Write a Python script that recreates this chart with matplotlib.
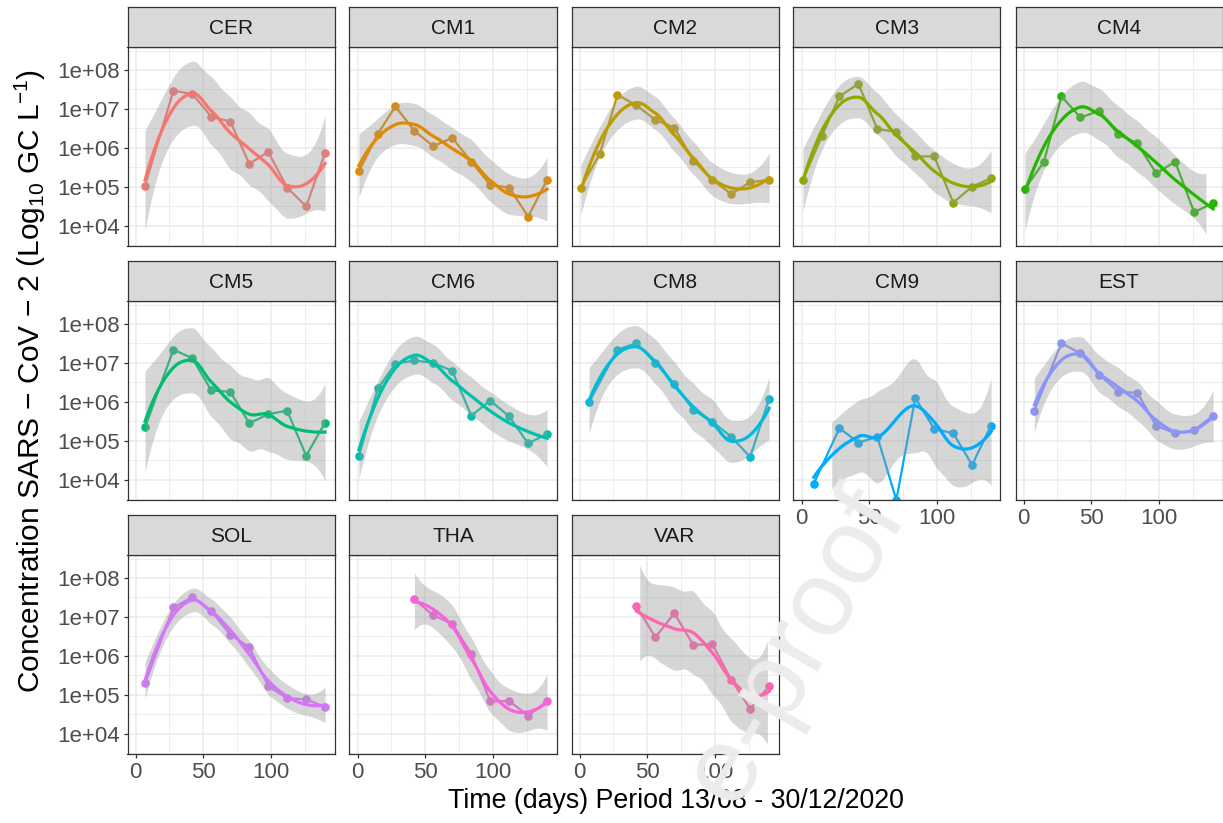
import math
import numpy as np
import matplotlib
matplotlib.use("Agg")
import matplotlib.pyplot as plt
from matplotlib.ticker import FixedLocator, NullFormatter

plt.rcParams['font.family'] = ['Liberation Sans', 'DejaVu Sans']
plt.rcParams['mathtext.fontset'] = 'custom'
plt.rcParams['mathtext.rm'] = 'Liberation Sans'
plt.rcParams['mathtext.it'] = 'Liberation Sans:italic'

# ---------------- data ----------------
sites = ["CER", "CM1", "CM2", "CM3", "CM4", "CM5", "CM6", "CM8", "CM9", "EST",
         "SOL", "THA", "VAR"]
colors = ["#F8766D", "#E18A00", "#BE9C00", "#8CAB00", "#24B700", "#00BE70",
          "#00C1AB", "#00BBDA", "#00ACFC", "#8B93FF", "#D575FE", "#F962DD", "#FF65AC"]

days_11 = [1, 15, 28, 42, 56, 70, 84, 98, 112, 126, 140]
days_d7 = [7, 28, 42, 56, 70, 84, 98, 112, 126, 140]
days_est = [8, 28, 42, 56, 70, 84, 98, 112, 126, 140]
days_cm9 = [9, 28, 42, 56, 70, 84, 98, 112, 126, 140]
days_d42 = [42, 56, 70, 84, 98, 112, 126, 140]

cer = [1.07e5, 2.95e7, 2.4e7, 6.3e6, 4.7e6, 3.9e5, 7.8e5, 9.5e4, 3.1e4, 7.4e5]
cm1 = [2.5e5, 2.3e6, 1.15e7, 2.7e6, 1.1e6, 1.8e6, 4.4e5, 1.1e5, 9.5e4, 1.7e4, 1.5e5]
cm2 = [9.5e4, 7.1e5, 2.3e7, 1.23e7, 5.2e6, 3.3e6, 4.7e5, 1.5e5, 6.5e4, 1.3e5, 1.5e5]
cm3 = [1.5e5, 2.0e6, 2.1e7, 4.4e7, 3.0e6, 2.6e6, 6.0e5, 6.0e5, 3.9e4, 1.0e5, 1.65e5]
cm4 = [8.9e4, 4.3e5, 2.1e7, 6.0e6, 8.9e6, 2.2e6, 1.3e6, 2.2e5, 4.4e5, 2.2e4, 3.8e4]
cm5 = [2.2e5, 2.2e7, 1.3e7, 1.95e6, 1.8e6, 2.8e5, 4.8e5, 5.9e5, 4.1e4, 2.9e5]
cm6 = [4.1e4, 2.2e6, 9.5e6, 1.15e7, 1.0e7, 6.2e6, 4.4e5, 1.07e6, 4.2e5, 8.5e4, 1.5e5]
cm8 = [9.8e5, 2.2e7, 3.2e7, 1.0e7, 2.9e6, 6.2e5, 3.1e5, 1.26e5, 3.8e4, 1.2e6]
cm9 = [7.8e3, 2.1e5, 8.9e4, 1.26e5, 0.0, 1.26e6, 2.0e5, 1.55e5, 2.4e4, 2.45e5]
est = [5.9e5, 3.2e7, 1.75e7, 5.0e6, 1.8e6, 1.7e6, 2.4e5, 1.55e5, 1.85e5, 4.4e5]
sol = [1.95e5, 1.75e7, 3.2e7, 1.4e7, 3.5e6, 1.65e6, 1.65e5, 8.1e4, 7.6e4, 4.8e4]
tha = [2.8e7, 1.1e7, 6.6e6, 1.12e6, 6.8e4, 6.8e4, 2.9e4, 6.8e4]
var = [1.9e7, 3.0e6, 1.23e7, 1.9e6, 2.0e6, 2.45e5, 4.3e4, 1.65e5]

series_days = [days_d7, days_11, days_11, days_11, days_11, days_d7, days_11,
               days_d7, days_cm9, days_est, days_d7, days_d42, days_d42]
series_vals = [cer, cm1, cm2, cm3, cm4, cm5, cm6, cm8, cm9, est, sol, tha, var]

y_ticks = [1e4, 1e5, 1e6, 1e7, 1e8]
y_tick_labels = ["1e+04", "1e+05", "1e+06", "1e+07", "1e+08"]
x_ticks = [0, 50, 100]
x_tick_labels = ["0", "50", "100"]
x_title = "Time (days) Period 13/08 - 30/12/2020"
y_title = r"Concentration SARS $-$ CoV $-$ 2 (Log$_{10}$ GC L$^{-1}$)"
watermark = "e-proof"


# ---------------- loess (R-style: kd vertices + cubic Hermite) ----------------
def t_quantile(p, df):
    c = math.exp(math.lgamma((df + 1) / 2) - math.lgamma(df / 2)) / math.sqrt(df * math.pi)
    ts = np.linspace(0, 60, 300001)
    f = c * (1 + ts ** 2 / df) ** (-(df + 1) / 2)
    cdf = 0.5 + np.concatenate([[0], np.cumsum((f[1:] + f[:-1]) / 2 * np.diff(ts))])
    return float(np.interp(p, cdf, ts))


def loess_ci(x, y, xs, span=0.75, cell=0.2):
    x = np.asarray(x, float)
    y = np.asarray(y, float)
    n = len(x)
    q = int(np.floor(n * span + 1e-5))
    fc = int(np.floor(n * span * cell))

    def local(x0):
        d = np.abs(x - x0)
        h = np.sort(d)[q - 1]
        u = np.clip(d / h, 0, 1)
        w = (1 - u ** 3) ** 3
        X = np.vstack([np.ones(n), x - x0, (x - x0) ** 2]).T
        XtW = X.T * w
        B = np.linalg.solve(XtW @ X, XtW)
        return B[0], B[1]

    xsort = np.sort(x)
    mu = 0.005 * (xsort[-1] - xsort[0])
    verts = {xsort[0] - mu, xsort[-1] + mu}

    def build(lo_i, hi_i, lo_v, hi_v):
        if hi_i - lo_i + 1 <= fc:
            return
        m = (lo_i + hi_i) // 2
        t = xsort[m]
        if t == lo_v or t == hi_v:
            return
        verts.add(t)
        build(lo_i, m, lo_v, t)
        build(m + 1, hi_i, t, hi_v)

    build(0, n - 1, xsort[0] - mu, xsort[-1] + mu)
    vs = np.array(sorted(verts))
    vals, slopes = zip(*[local(v) for v in vs])
    vals = np.array(vals)
    slopes = np.array(slopes)

    def op(xe):
        k = np.clip(np.searchsorted(vs, xe) - 1, 0, len(vs) - 2)
        v0, v1 = vs[k], vs[k + 1]
        hh = v1 - v0
        t = (xe - v0) / hh
        h00 = 2 * t ** 3 - 3 * t ** 2 + 1
        h10 = t ** 3 - 2 * t ** 2 + t
        h01 = -2 * t ** 3 + 3 * t ** 2
        h11 = t ** 3 - t ** 2
        return h00 * vals[k] + h10 * hh * slopes[k] + h01 * vals[k + 1] + h11 * hh * slopes[k + 1]

    L = np.array([op(v) for v in x])
    res = y - L @ y
    IL = np.eye(n) - L
    M = IL.T @ IL
    d1 = np.trace(M)
    d2 = np.trace(M @ M)
    sigma = np.sqrt(np.sum(res ** 2) / d1)
    df = d1 ** 2 / d2
    Ls = np.array([op(v) for v in xs])
    fit = Ls @ y
    se = sigma * np.sqrt(np.sum(Ls ** 2, axis=1))
    t = t_quantile(0.975, df)
    return fit, fit - t * se, fit + t * se


# ---------------- layout ----------------
W, H = 1223, 823
fig = plt.figure(figsize=(W / 100, H / 100), dpi=100)
fig.patch.set_facecolor("white")

left0, colstep, pw = 127.5, 222.0, 207.0
top0, rowstep, ph, sh = 47.0, 254.0, 199.0, 40.0

all_days = [d for ds in series_days for d in ds]
xmin, xmax = min(all_days), max(all_days)
xr = xmax - xmin
xlim = (xmin - 0.05 * xr, xmax + 0.05 * xr)
ylim = (10 ** 3.475, 10 ** 8.59)
lo_lim, hi_lim = 3.70, 8.36

bottom_panels = {8, 9, 10, 11, 12}


def rect(l, t, w, h):
    return [l / W, 1 - (t + h) / H, w / W, h / H]


for i, (name, col, ds, vals) in enumerate(zip(sites, colors, series_days, series_vals)):
    r, c = divmod(i, 5)
    pl = left0 + colstep * c
    pt = top0 + rowstep * r
    ax = fig.add_axes(rect(pl, pt, pw, ph))
    ax.set_yscale("log")
    ax.set_xlim(*xlim)
    ax.set_ylim(*ylim)
    ax.set_facecolor("white")

    ax.yaxis.set_major_locator(FixedLocator(y_ticks))
    ax.yaxis.set_minor_locator(FixedLocator([10 ** (k + 0.5) for k in range(3, 9)]))
    ax.yaxis.set_minor_formatter(NullFormatter())
    ax.xaxis.set_major_locator(FixedLocator(x_ticks))
    ax.xaxis.set_minor_locator(FixedLocator([25, 75, 125]))
    ax.grid(True, which="major", color="#EBEBEB", lw=1.1, zorder=0)
    ax.grid(True, which="minor", color="#EBEBEB", lw=0.6, zorder=0)
    ax.set_axisbelow(True)
    for s in ax.spines.values():
        s.set_color("#333333")
        s.set_linewidth(0.9)
        s.set_zorder(10)

    ax.tick_params(which="minor", length=0)
    ax.tick_params(which="major", length=3.2, width=0.9, color="#333333",
                   labelcolor="#4D4D4D", labelsize=16, pad=2.5)
    if c == 0:
        ax.set_yticklabels(y_tick_labels)
    else:
        ax.tick_params(axis="y", which="major", length=0, labelleft=False)
    if i in bottom_panels:
        ax.set_xticklabels(x_tick_labels)
    else:
        ax.tick_params(axis="x", which="major", length=0, labelbottom=False)

    x = np.array(ds, float)
    v = np.array(vals, float)
    # non-positive values are -Inf on the log scale: drawn at the panel edge
    v_draw = np.where(v > 0, v, ylim[0])
    ax.plot(x, v_draw, color=col, lw=1.6, zorder=2, solid_capstyle="round")
    ax.plot(x, v_draw, "o", color=col, ms=6.2, mew=0, zorder=2)

    keep = v > 0
    xf = x[keep]
    ly = np.log10(v[keep])
    xs = np.linspace(xf.min(), xf.max(), 80)
    fit, lo, hi = loess_ci(xf, ly, xs)
    ok = (lo >= lo_lim) & (hi <= hi_lim)
    lo_m = np.where(ok, lo, np.nan)
    hi_m = np.where(ok, hi, np.nan)
    ax.fill_between(xs, 10 ** lo_m, 10 ** hi_m, color="#999999", alpha=0.4,
                    lw=0, zorder=3)
    ax.plot(xs, 10 ** fit, color=col, lw=2.3, zorder=4)

    sax = fig.add_axes(rect(pl, pt - sh, pw, sh))
    sax.set_facecolor("#D9D9D9")
    sax.set_xticks([])
    sax.set_yticks([])
    for s in sax.spines.values():
        s.set_color("#333333")
        s.set_linewidth(0.9)
    sax.text(0.5, 0.47, name, ha="center", va="center", fontsize=15,
             color="#1A1A1A", transform=sax.transAxes)

fig.text(676 / W, 1 - 801 / H, x_title, ha="center", va="center", fontsize=19.3,
         color="black")
fig.text(30 / W, 1 - 381 / H, y_title, ha="center", va="center", rotation=90,
         fontsize=21.5, color="black")

# faint diagonal watermark of the source document
fig.text(796 / W, 1 - 646 / H, watermark, ha="center", va="center", rotation=60,
         rotation_mode="anchor", fontsize=78, color="#ECECEC", zorder=100)

fig.savefig("out.png", dpi=100, facecolor="white")
